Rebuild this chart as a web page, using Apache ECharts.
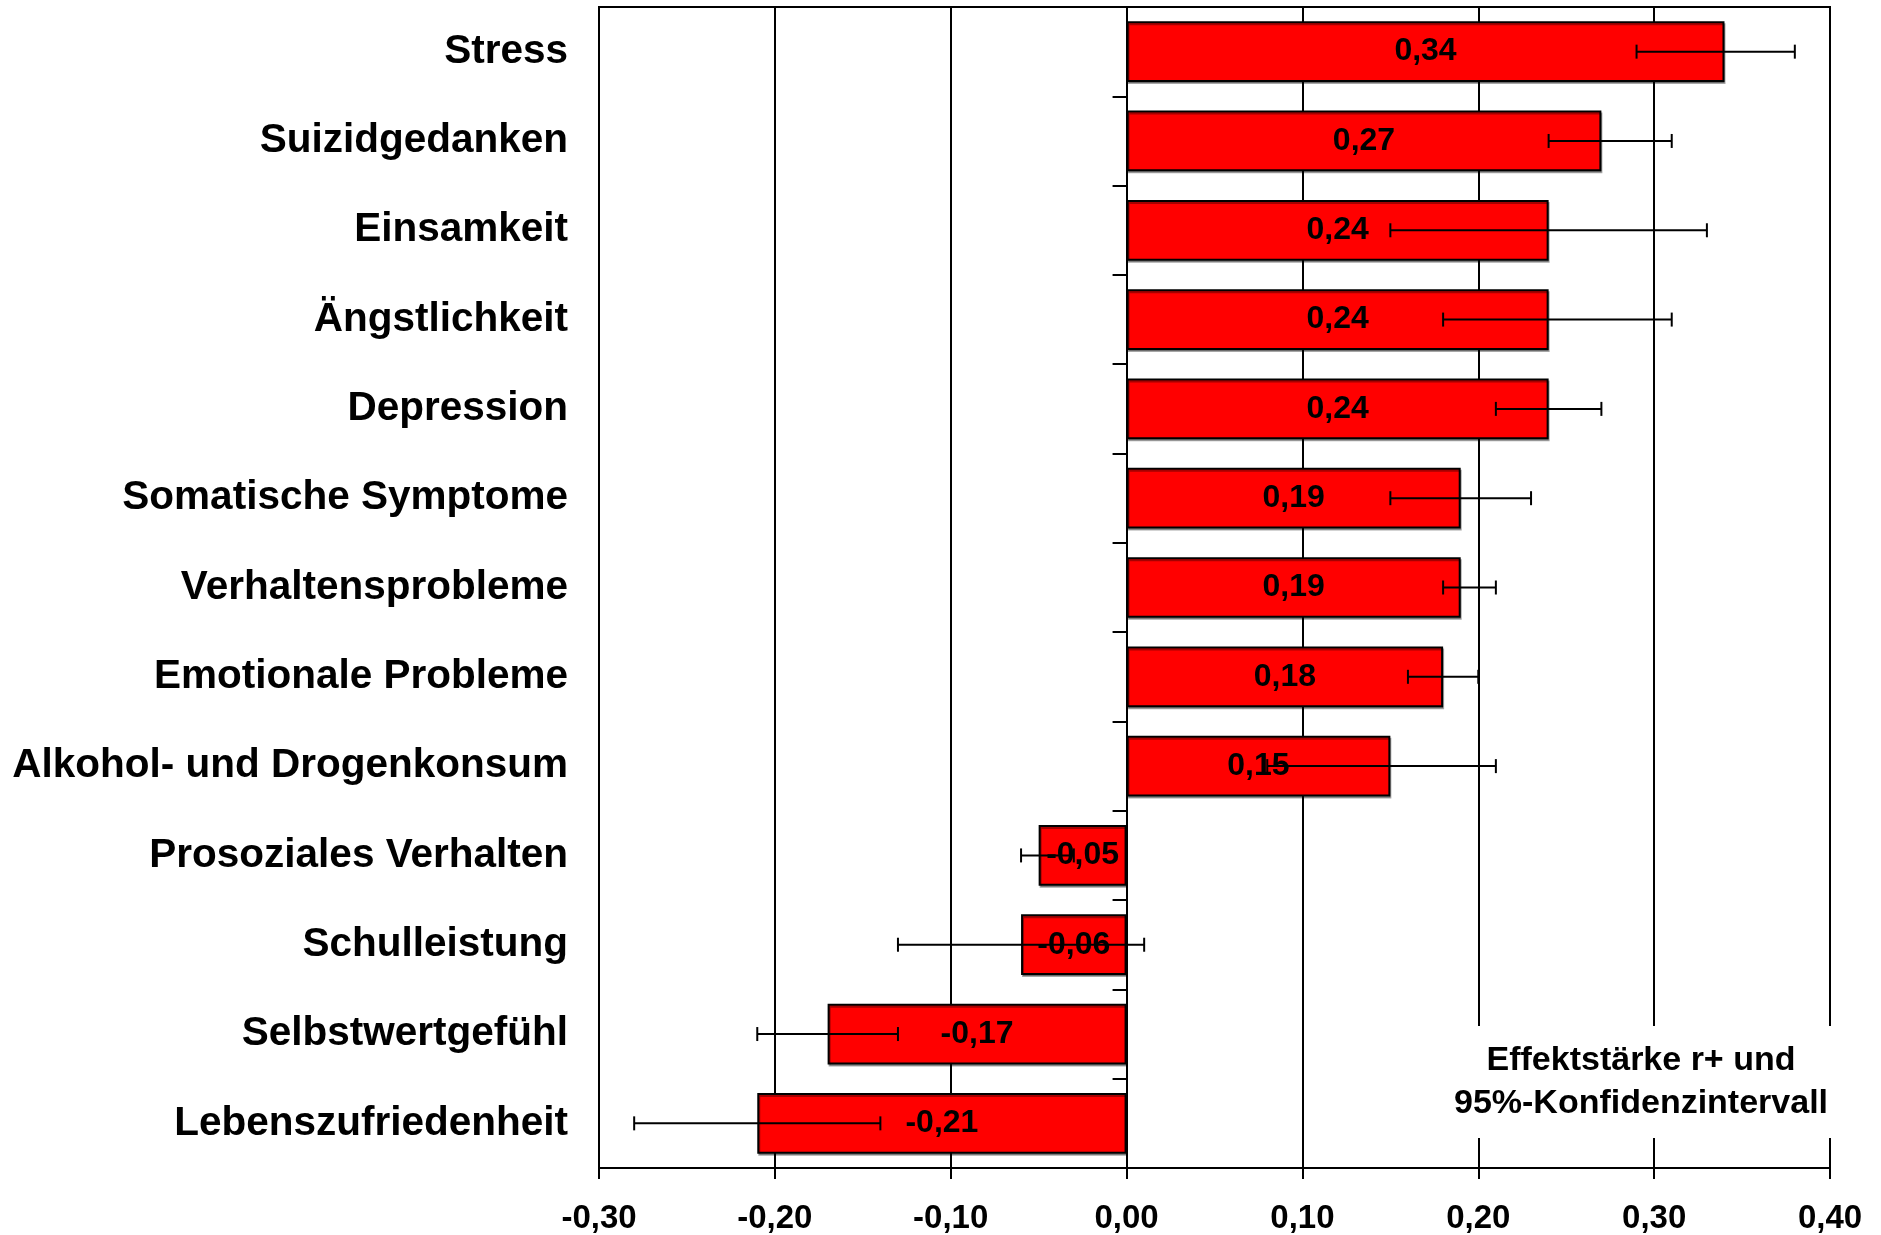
<!DOCTYPE html>
<html>
<head>
<meta charset="utf-8">
<script src="https://cdn.jsdelivr.net/npm/echarts@6/dist/echarts.min.js"></script>
<style>html,body{margin:0;padding:0;background:#fff;}#c{width:1881px;height:1235px;}</style>
</head>
<body>
<div id="c"></div>
<script>
var categories = ['Stress','Suizidgedanken','Einsamkeit','Ängstlichkeit','Depression','Somatische Symptome','Verhaltensprobleme','Emotionale Probleme','Alkohol- und Drogenkonsum','Prosoziales Verhalten','Schulleistung','Selbstwertgefühl','Lebenszufriedenheit'];
var effectValues = [0.34,0.27,0.24,0.24,0.24,0.19,0.19,0.18,0.15,-0.05,-0.06,-0.17,-0.21];
var ciLow = [0.29,0.24,0.15,0.18,0.21,0.15,0.18,0.16,0.08,-0.06,-0.13,-0.21,-0.28];
var ciHigh = [0.38,0.31,0.33,0.31,0.27,0.23,0.21,0.20,0.21,-0.03,0.01,-0.13,-0.14];
var xMin = -0.3, xMax = 0.4, xStep = 0.1;
var annotationLines = ['Effektstärke r+ und', '95%-Konfidenzintervall'];

var FONT = "'Liberation Sans', Arial, sans-serif";
function fmt(v){ return v.toFixed(2).replace('.', ','); }

var errData = categories.map(function(c, i){ return [i, ciLow[i], ciHigh[i]]; });

var chart = echarts.init(document.getElementById('c'), null, {renderer:'canvas'});
var option = {
  backgroundColor: '#fff',
  animation: false,
  grid: { left: 599, right: 51, top: 7, bottom: 67, show: true, borderColor: '#000', borderWidth: 2, containLabel: false },
  xAxis: {
    type: 'value', min: xMin, max: xMax, interval: xStep,
    axisLine: { show: true, onZero: false, lineStyle: { color: '#000', width: 2 } },
    axisTick: { show: true, length: 11, lineStyle: { color: '#000', width: 2 } },
    splitLine: { show: true, lineStyle: { color: '#000', width: 2 } },
    axisLabel: { color: '#000', fontFamily: FONT, fontWeight: 'bold', fontSize: 33, margin: 34, formatter: function(v){ return fmt(v); } }
  },
  yAxis: [{
    type: 'category', data: categories, inverse: true, position: 'left',
    axisLine: { show: false }, axisTick: { show: false },
    axisLabel: { color: '#000', fontFamily: FONT, fontWeight: 'bold', fontSize: 40.5, margin: 31, padding: [5, 0, 0, 0] }
  }, {
    type: 'category', data: categories, inverse: true, position: 'left', offset: 0,
    axisLine: { show: true, onZero: false, lineStyle: { color: '#000', width: 2 } },
    axisTick: { show: true, length: 14, lineStyle: { color: '#000', width: 2 } },
    axisLabel: { show: false }
  }],
  series: [{
    type: 'bar', data: effectValues, barWidth: '68%', yAxisIndex: 0,
    itemStyle: { color: '#ff0000', borderColor: '#000', borderWidth: 2, shadowColor: 'rgba(0,0,0,0.35)', shadowOffsetX: 1, shadowOffsetY: 2, shadowBlur: 0 },
    label: { show: true, position: 'inside', color: '#000', fontFamily: FONT, fontWeight: 'bold', fontSize: 32, padding: [4, 0, 0, 0], formatter: function(p){ return fmt(p.value); } },
    z: 2
  }, {
    type: 'custom', yAxisIndex: 0, z: 10, data: errData,
    encode: { x: [1, 2], y: 0 },
    renderItem: function(params, api){
      var yi = api.value(0);
      var a = api.coord([api.value(1), yi]);
      var b = api.coord([api.value(2), yi]);
      var h = 7;
      var st = { stroke: '#000', lineWidth: 2 };
      return { type: 'group', children: [
        { type: 'line', shape: { x1: a[0], y1: a[1], x2: b[0], y2: b[1] }, style: st },
        { type: 'line', shape: { x1: a[0], y1: a[1]-h, x2: a[0], y2: a[1]+h }, style: st },
        { type: 'line', shape: { x1: b[0], y1: b[1]-h, x2: b[0], y2: b[1]+h }, style: st }
      ]};
    }
  }],
  graphic: [{
    type: 'text', z: 100, x: 1641, y: 1082,
    style: {
      text: annotationLines.join('\n'), fill: '#000', font: 'bold 34px ' + FONT,
      align: 'center', verticalAlign: 'middle', lineHeight: 43,
      backgroundColor: '#fff', padding: [13, 10, 13, 10]
    }
  }]
};
chart.setOption(option);
// place the tick-only axis on the zero line of the value axis
var zeroPx = chart.convertToPixel({ xAxisIndex: 0 }, 0);
var leftPx = chart.convertToPixel({ xAxisIndex: 0 }, xMin);
chart.setOption({ yAxis: [{}, { offset: -(zeroPx - leftPx) }] });
</script>
</body>
</html>
